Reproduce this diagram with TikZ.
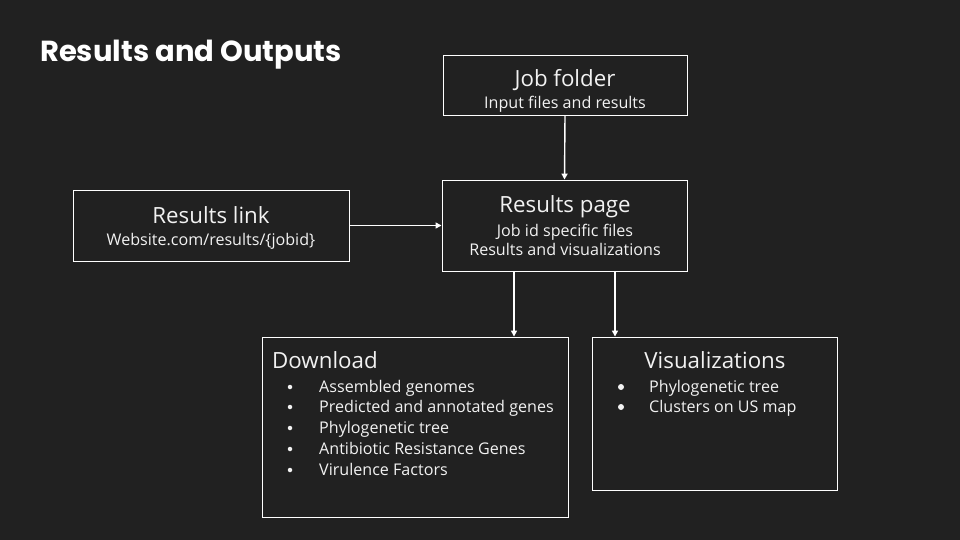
\documentclass[tikz,border=0pt]{standalone}
\usepackage{fontspec}
\setmainfont{Open Sans}
\newfontfamily\titlefont{Poppins}
\usetikzlibrary{arrows.meta}
\definecolor{bg}{HTML}{212121}
\definecolor{txt}{HTML}{F2F2F2}
\begin{document}
\begin{tikzpicture}[x=1pt,y=-1pt,
  box/.style={draw=white,line width=0.9pt},
  conn/.style={draw=white,line width=1.4pt,-{Triangle[length=6pt,width=6pt]}},
  head/.style={text=txt,font=\fontsize{22.3}{25}\selectfont,inner sep=0pt,anchor=base},
  sub/.style={text=txt,font=\fontsize{16.1}{18}\selectfont,inner sep=0pt,anchor=base},
  item/.style={text=txt,font=\fontsize{16.1}{18}\selectfont,inner sep=0pt,anchor=base west},
  dot/.style={circle,fill=txt,inner sep=0pt,minimum size=#1}]
\fill[bg] (0,0) rectangle (960,540);
\useasboundingbox (0,0) rectangle (960,540);

\node[text=white,font=\titlefont\bfseries\fontsize{29}{32}\selectfont,inner sep=0pt,anchor=base west] (title) at (40,62) {Results and Outputs};

% boxes
\node[box,minimum width=244pt,minimum height=60pt,inner sep=0pt] (job) at (565,85) {};
\node[box,minimum width=245pt,minimum height=91pt,inner sep=0pt] (page) at (564.5,225.5) {};
\node[box,minimum width=276pt,minimum height=71pt,inner sep=0pt] (link) at (211,225.5) {};
\node[box,minimum width=306pt,minimum height=180pt,inner sep=0pt] (dl) at (415,427) {};
\node[box,minimum width=245pt,minimum height=153pt,inner sep=0pt] (vis) at (714.5,413.5) {};

% texts
\node[head] (jobh) at (565,87) {Job folder};
\node[sub] (jobs) at (565,109) {Input files and results};
\node[head] (pageh) at (565,212) {Results page};
\node[sub] (pages1) at (565,236) {Job id specific files};
\node[sub] (pages2) at (565,255) {Results and visualizations};
\node[head] (linkh) at (211,223) {Results link};
\node[sub] (links) at (211,245) {Website.com/results/\{jobid\}};

\node[head,anchor=base west] (dlh) at (272,368) {Download};
\foreach \y/\t [count=\i] in {392/Assembled genomes,412/Predicted and annotated genes,433/Phylogenetic tree,454/Antibiotic Resistance Genes,475/Virulence Factors}{
  \node[dot=4.5pt] (dlb\i) at (290,\y-5) {};
  \node[item] (dli\i) at (319,\y) {\t};
}
\node[head] (vish) at (715,368) {Visualizations};
\foreach \y/\t [count=\i] in {392/Phylogenetic tree,412/Clusters on US map}{
  \node[dot=6pt] (visb\i) at (621,\y-5) {};
  \node[item] (visi\i) at (649,\y) {\t};
}

% connectors
\draw[conn] (job.south) -- (page.north);
\draw[conn] (link.east) -- (page.west);
\draw[conn] (page.south -| 514,0) -- (dl.north -| 514,0);
\draw[conn] (page.south -| 615,0) -- (vis.north -| 615,0);
\end{tikzpicture}
\end{document}
